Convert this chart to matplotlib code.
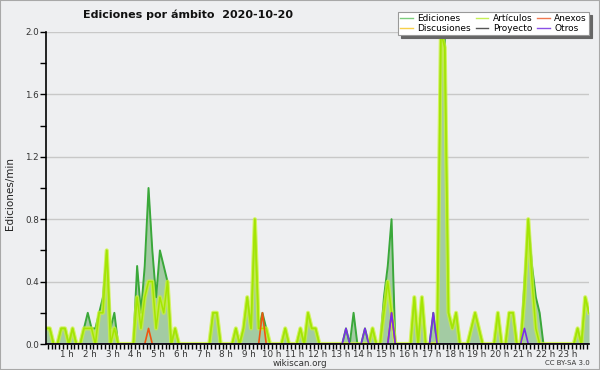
import numpy as np
import matplotlib
matplotlib.use("Agg")
import matplotlib.pyplot as plt
from matplotlib.lines import Line2D
from matplotlib.patches import Rectangle
from matplotlib.ticker import MultipleLocator, FixedLocator

# edits per minute, 10-minute bins (144 per day), rows of 2 hours
ediciones = [
    .1, .1, 0, 0, .1, .1, 0, .1, 0, 0, .1, .2,
    .1, .1, .2, .3, .6, .1, .2, 0, 0, 0, 0, 0,
    .5, .2, .5, 1.0, .6, .3, .6, .5, .4, 0, .1, 0,
    0, 0, 0, 0, 0, 0, 0, 0, .2, .2, 0, 0,
    0, 0, .1, 0, .1, .3, .1, .8, .1, .2, .1, 0,
    0, 0, 0, .1, 0, 0, 0, .1, 0, .2, .1, .1,
    0, 0, 0, 0, 0, 0, 0, .1, 0, .2, 0, 0,
    .1, 0, .1, 0, 0, .3, .5, .8, 0, 0, 0, 0,
    0, .3, 0, .3, 0, 0, .2, 0, 2.0, 2.0, .2, .1,
    .2, 0, 0, 0, .1, .2, .1, 0, 0, 0, 0, .2,
    0, 0, .2, .2, 0, 0, .4, .8, .5, .3, .2, 0,
    0, 0, 0, 0, 0, 0, 0, 0, .1, 0, .3, .2,
]
articulos = [
    .1, .1, 0, 0, .1, .1, 0, .1, 0, 0, .1, .1,
    .1, 0, .2, .2, .6, 0, .1, 0, 0, 0, 0, 0,
    .3, .1, .3, .4, .4, .1, .3, .2, .4, 0, .1, 0,
    0, 0, 0, 0, 0, 0, 0, 0, .2, .2, 0, 0,
    0, 0, .1, 0, .1, .3, .1, .8, .1, .1, .1, 0,
    0, 0, 0, .1, 0, 0, 0, .1, 0, .2, .1, .1,
    0, 0, 0, 0, 0, 0, 0, 0, 0, 0, 0, 0,
    0, 0, .1, 0, 0, .2, .4, .2, 0, 0, 0, 0,
    0, .3, 0, .3, 0, 0, 0, 0, 2.0, 1.9, .2, .1,
    .2, 0, 0, 0, .1, .2, .1, 0, 0, 0, 0, .2,
    0, 0, .2, .2, 0, 0, .3, .8, .4, .1, 0, 0,
    0, 0, 0, 0, 0, 0, 0, 0, .1, 0, .3, .2,
]
anexos = [
    0, 0, 0, 0, 0, 0, 0, 0, 0, 0, 0, 0,
    0, 0, 0, 0, 0, 0, 0, 0, 0, 0, 0, 0,
    0, 0, 0, .1, 0, 0, 0, 0, 0, 0, 0, 0,
    0, 0, 0, 0, 0, 0, 0, 0, 0, 0, 0, 0,
    0, 0, 0, 0, 0, 0, 0, 0, 0, .2, 0, 0,
    0, 0, 0, 0, 0, 0, 0, 0, 0, 0, 0, 0,
    0, 0, 0, 0, 0, 0, 0, 0, 0, 0, 0, 0,
    0, 0, 0, 0, 0, 0, 0, .2, 0, 0, 0, 0,
    0, 0, 0, 0, 0, 0, 0, 0, 0, 0, 0, 0,
    0, 0, 0, 0, 0, 0, 0, 0, 0, 0, 0, 0,
    0, 0, 0, 0, 0, 0, 0, 0, 0, 0, 0, 0,
    0, 0, 0, 0, 0, 0, 0, 0, 0, 0, 0, 0,
]
otros = [
    0, 0, 0, 0, 0, 0, 0, 0, 0, 0, 0, 0,
    0, 0, 0, 0, 0, 0, 0, 0, 0, 0, 0, 0,
    0, 0, 0, 0, 0, 0, 0, 0, 0, 0, 0, 0,
    0, 0, 0, 0, 0, 0, 0, 0, 0, 0, 0, 0,
    0, 0, 0, 0, 0, 0, 0, 0, 0, 0, 0, 0,
    0, 0, 0, 0, 0, 0, 0, 0, 0, 0, 0, 0,
    0, 0, 0, 0, 0, 0, 0, .1, 0, 0, 0, 0,
    .1, 0, 0, 0, 0, 0, 0, .2, 0, 0, 0, 0,
    0, 0, 0, 0, 0, 0, .2, 0, 0, 0, 0, 0,
    0, 0, 0, 0, 0, 0, 0, 0, 0, 0, 0, 0,
    0, 0, 0, 0, 0, 0, .1, 0, 0, 0, 0, 0,
    0, 0, 0, 0, 0, 0, 0, 0, 0, 0, 0, 0,
]
discusiones = [0.0] * 144
proyecto = [0.0] * 144

hours = list(range(1, 24))
hour_labels = [f"{h} h" for h in hours]

BG = "#eeeff1"
fig = plt.figure(figsize=(6, 3.7), dpi=100, facecolor=BG)
ax = fig.add_axes([46 / 600, 26 / 370, 543 / 600, 312 / 370])
ax.set_facecolor(BG)

x = np.arange(len(ediciones))
ax.fill_between(x, ediciones, color="#a3cba3", lw=0, zorder=2)
ax.plot(x, ediciones, color="#3aa83a", lw=1.4, zorder=3)
ax.plot(x, discusiones, color="#f5c842", lw=1, zorder=1)
ax.plot(x, proyecto, color="#555555", lw=1, zorder=1)
ax.plot(x, articulos, color="#ccf533", lw=3.0, alpha=0.75, zorder=4)
ax.plot(x, articulos, color="#a4e600", lw=1.1, zorder=5)
ax.plot(x, anexos, color="#ee5511", lw=1.2, zorder=6)
ax.plot(x, otros, color="#7a2ee8", lw=1.2, zorder=7)

ax.set_xlim(0, 143)
ax.set_ylim(0, 2.0)

for s in ["top", "right"]:
    ax.spines[s].set_visible(False)
for s in ["left", "bottom"]:
    ax.spines[s].set_color("black")
    ax.spines[s].set_linewidth(1.2)
    ax.spines[s].set_zorder(8)

ax.yaxis.set_major_locator(MultipleLocator(0.4))
ax.yaxis.set_minor_locator(MultipleLocator(0.2))
ax.yaxis.set_major_formatter(matplotlib.ticker.FormatStrFormatter("%.1f"))
ax.yaxis.grid(True, which="major", color="#c8c8c8", lw=1, zorder=0)
ax.set_axisbelow(True)

ax.xaxis.set_major_locator(FixedLocator([6 * h - 0.5 for h in hours]))
ax.set_xticklabels(hour_labels)
ax.xaxis.set_minor_locator(FixedLocator(np.arange(0.5, 143, 1.0)))

ax.tick_params(axis="both", which="both", direction="out", length=4,
               width=1, color="black", labelsize=6.3, labelcolor="#333333")
ax.tick_params(axis="x", which="both", length=3.5, pad=0.5)
ax.tick_params(axis="y", pad=1)

fig.text(10 / 600, 1 - 194 / 370, "Ediciones/min", rotation=90,
         ha="center", va="center", fontsize=7.5, color="#222222")
fig.text(188 / 600, 1 - 15 / 370, "Ediciones por ámbito  2020-10-20",
         ha="center", va="center", fontsize=8, fontweight="bold", color="#111111")
fig.text(0.5, 1 - 363 / 370, "wikiscan.org", ha="center", va="center",
         fontsize=6.3, color="#333333")
fig.text(590 / 600, 1 - 363 / 370, "CC BY-SA 3.0", ha="right", va="center",
         fontsize=5, color="#333333")

handles = [
    Line2D([], [], color="#7ccc7c", lw=1),
    Line2D([], [], color="#f7d04a", lw=1),
    Line2D([], [], color="#c5ef55", lw=1),
    Line2D([], [], color="#555555", lw=1),
    Line2D([], [], color="#f07850", lw=1),
    Line2D([], [], color="#8a50e6", lw=1),
]
labels = ["Ediciones", "Discusiones", "Artículos", "Proyecto", "Anexos", "Otros"]
leg = fig.legend(handles, labels, ncol=3, loc="upper right",
                 bbox_to_anchor=(589 / 600, 1 - 12 / 370),
                 fontsize=6.5, frameon=True, fancybox=False,
                 shadow={"color": "0.4", "alpha": 1},
                 borderpad=0.25, labelspacing=0.05, handlelength=1.4,
                 handletextpad=0.5, columnspacing=0.5, borderaxespad=0)
leg.get_frame().set_edgecolor("#999999")
leg.get_frame().set_linewidth(0.8)
leg.get_frame().set_facecolor("white")
leg.set_zorder(20)

fig.add_artist(Rectangle((0, 0), 1, 1, transform=fig.transFigure,
                         fill=False, ec="#a8a8a8", lw=1.5))

fig.savefig("out.png", dpi=100, facecolor=BG)
